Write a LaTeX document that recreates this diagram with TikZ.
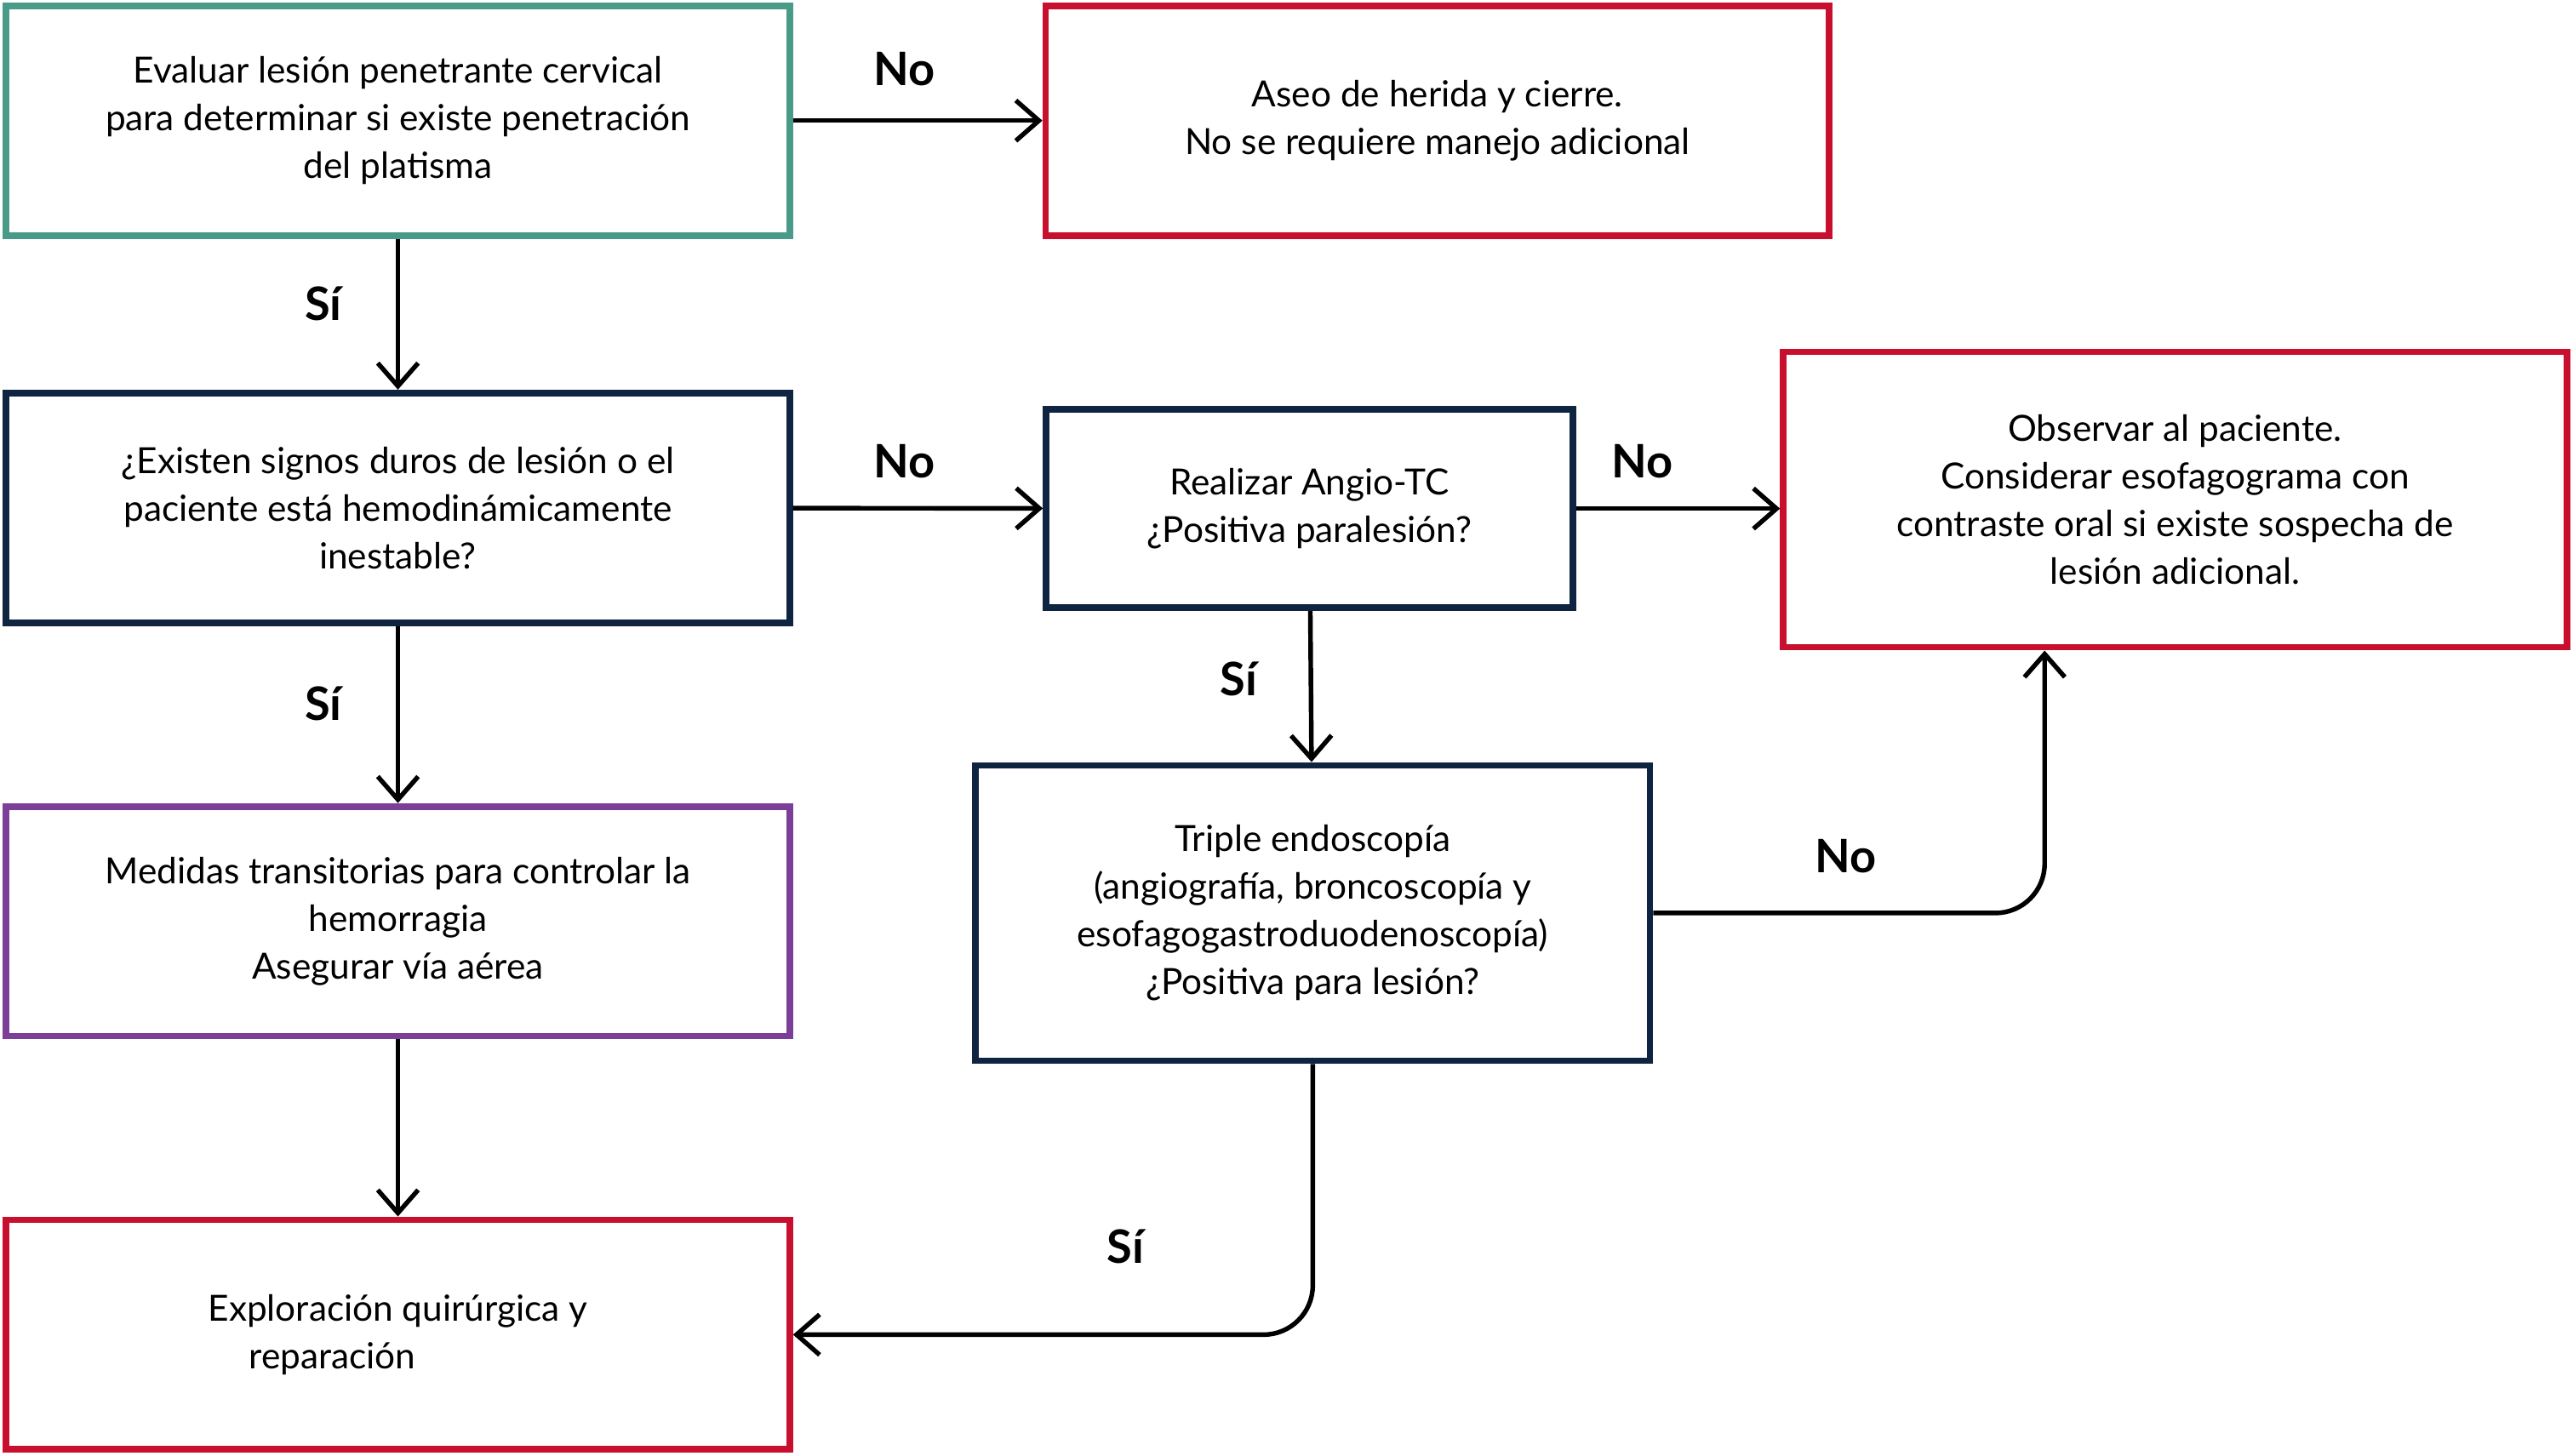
\documentclass[tikz,border=0pt]{standalone}
\usepackage{fontspec}
\setmainfont{Lato}
\usetikzlibrary{arrows.meta}
\definecolor{tealc}{HTML}{4A9A8A}
\definecolor{redc}{HTML}{C8102E}
\definecolor{navyc}{HTML}{0F2440}
\definecolor{purplec}{HTML}{7B3F98}
\tikzset{
  box/.style={draw, line width=2.3pt, align=center, inner sep=2pt,
    font=\fontsize{12.5}{16.5}\selectfont},
  flow/.style={-{Straight Barb[length=8pt,width=14pt,line width=1.6pt]}, line width=1.6pt, rounded corners=0.6cm},
  tag/.style={font=\fontsize{16}{18}\selectfont\bfseries}
}
\begin{document}
\begin{tikzpicture}
\useasboundingbox (0,0) rectangle (31.36,-17.74);
\node[box, draw=tealc, minimum width=9.55cm, minimum height=2.8cm] (eval) at (4.85,-1.47) {Evaluar lesión penetrante cervical\\para determinar si existe penetración\\del platisma};
\node[box, draw=redc, minimum width=9.55cm, minimum height=2.8cm] (aseo) at (17.52,-1.47) {Aseo de herida y cierre.\\No se requiere manejo adicional};
\node[box, draw=navyc, minimum width=9.55cm, minimum height=2.8cm] (signos) at (4.85,-6.19) {¿Existen signos duros de lesión o el\\paciente está hemodinámicamente\\inestable?};
\node[box, draw=navyc, minimum width=6.42cm, minimum height=2.42cm] (angio) at (15.96,-6.2) {Realizar Angio-TC\\¿Positiva paralesión?};
\node[box, draw=redc, minimum width=9.55cm, minimum height=3.6cm] (observ) at (26.51,-6.09) {Observar al paciente.\\Considerar esofagograma con\\contraste oral si existe sospecha de\\lesión adicional.};
\node[box, draw=purplec, minimum width=9.55cm, minimum height=2.8cm] (medidas) at (4.85,-11.23) {Medidas transitorias para controlar la\\hemorragia\\Asegurar vía aérea};
\node[box, draw=navyc, minimum width=8.22cm, minimum height=3.6cm] (triple) at (16.0,-11.13) {Triple endoscopía\\(angiografía, broncoscopía y\\esofagogastroduodenoscopía)\\¿Positiva para lesión?};
\node[box, draw=redc, minimum width=9.55cm, minimum height=2.8cm] (explor) at (4.85,-16.27) {Exploración quirúrgica y\\reparación\hspace*{1.6cm}};
% Connectors:
\draw[flow] (eval) -- (aseo);
\draw[flow] (eval) -- (signos);
\draw[flow] (signos) -- (angio);
\draw[flow] (angio.east) -- (angio.east -| observ.west);
\draw[flow] (signos) -- (medidas);
\draw[flow] (angio) -- (triple);
\draw[flow] (triple.east) -| ([xshift=-1.59cm]observ.south);
\draw[flow] (triple.south) |- (explor.east);
\draw[flow] (medidas) -- (explor);
% Labels:
\node[tag] (no1) at (11.02,-0.84) {No};
\node[tag] (si1) at (3.94,-3.7) {Sí};
\node[tag] (no2) at (11.02,-5.62) {No};
\node[tag] (no3) at (20.02,-5.62) {No};
\node[tag] (si2) at (3.94,-8.58) {Sí};
\node[tag] (si3) at (15.1,-8.28) {Sí};
\node[tag] (no4) at (22.5,-10.44) {No};
\node[tag] (si4) at (13.72,-15.2) {Sí};
\end{tikzpicture}
\end{document}
